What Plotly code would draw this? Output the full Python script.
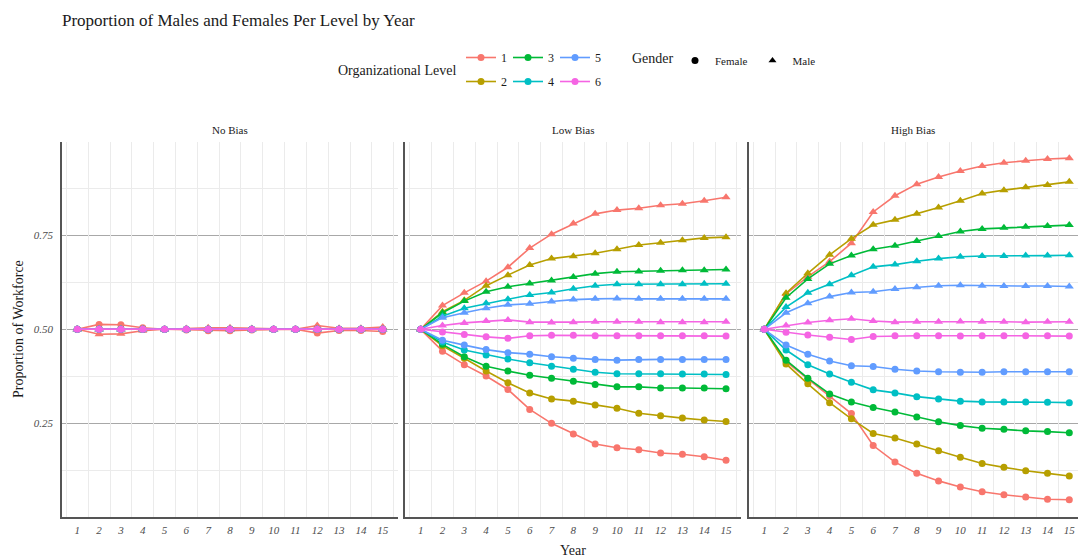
import plotly.graph_objects as go

years = list(range(1, 16))
levels = ["1", "2", "3", "4", "5", "6"]
scenarios = ["No Bias", "Low Bias", "High Bias"]
level_colors = ["#F8766D", "#B79F00", "#00BA38", "#00BFC4", "#619CFF", "#F564E3"]

# Proportion of each level's workforce by gender; one row per level 1..6
no_bias_female = [
    [0.5, 0.513, 0.512, 0.504, 0.5, 0.498, 0.496, 0.496, 0.498, 0.5, 0.5, 0.490, 0.497, 0.497, 0.494],
    [0.5, 0.5, 0.5, 0.5, 0.5, 0.5, 0.5, 0.5, 0.5, 0.5, 0.5, 0.5, 0.5, 0.5, 0.5],
    [0.5, 0.5, 0.5, 0.5, 0.5, 0.5, 0.5, 0.5, 0.5, 0.5, 0.5, 0.5, 0.5, 0.5, 0.5],
    [0.5, 0.5, 0.5, 0.5, 0.5, 0.5, 0.5, 0.5, 0.5, 0.5, 0.5, 0.5, 0.5, 0.5, 0.5],
    [0.5, 0.5, 0.5, 0.5, 0.5, 0.5, 0.5, 0.5, 0.5, 0.5, 0.5, 0.5, 0.5, 0.5, 0.5],
    [0.5, 0.5, 0.5, 0.5, 0.5, 0.5, 0.5, 0.5, 0.5, 0.5, 0.5, 0.5, 0.5, 0.5, 0.5],
]
no_bias_male = [
    [0.5, 0.487, 0.488, 0.496, 0.5, 0.502, 0.504, 0.504, 0.502, 0.5, 0.5, 0.510, 0.503, 0.503, 0.506],
    [0.5, 0.5, 0.5, 0.5, 0.5, 0.5, 0.5, 0.5, 0.5, 0.5, 0.5, 0.5, 0.5, 0.5, 0.5],
    [0.5, 0.5, 0.5, 0.5, 0.5, 0.5, 0.5, 0.5, 0.5, 0.5, 0.5, 0.5, 0.5, 0.5, 0.5],
    [0.5, 0.5, 0.5, 0.5, 0.5, 0.5, 0.5, 0.5, 0.5, 0.5, 0.5, 0.5, 0.5, 0.5, 0.5],
    [0.5, 0.5, 0.5, 0.5, 0.5, 0.5, 0.5, 0.5, 0.5, 0.5, 0.5, 0.5, 0.5, 0.5, 0.5],
    [0.5, 0.5, 0.5, 0.5, 0.5, 0.5, 0.5, 0.5, 0.5, 0.5, 0.5, 0.5, 0.5, 0.5, 0.5],
]

low_bias_female = [
    [0.5, 0.442, 0.406, 0.376, 0.340, 0.287, 0.250, 0.222, 0.195, 0.185, 0.180, 0.171, 0.168, 0.161, 0.152],
    [0.5, 0.456, 0.423, 0.389, 0.358, 0.331, 0.315, 0.309, 0.299, 0.290, 0.277, 0.270, 0.264, 0.259, 0.255],
    [0.5, 0.460, 0.427, 0.402, 0.389, 0.378, 0.370, 0.362, 0.353, 0.347, 0.347, 0.344, 0.344, 0.344, 0.342],
    [0.5, 0.466, 0.445, 0.432, 0.421, 0.411, 0.402, 0.394, 0.386, 0.382, 0.382, 0.382, 0.381, 0.381, 0.380],
    [0.5, 0.471, 0.458, 0.446, 0.438, 0.434, 0.427, 0.423, 0.420, 0.418, 0.420, 0.420, 0.420, 0.420, 0.420],
    [0.5, 0.493, 0.486, 0.480, 0.476, 0.483, 0.484, 0.484, 0.483, 0.483, 0.483, 0.483, 0.483, 0.483, 0.482],
]
low_bias_male = [
    [0.5, 0.563, 0.597, 0.628, 0.665, 0.716, 0.753, 0.781, 0.807, 0.817, 0.822, 0.830, 0.834, 0.842, 0.851],
    [0.5, 0.547, 0.577, 0.616, 0.644, 0.671, 0.688, 0.694, 0.702, 0.713, 0.724, 0.730, 0.737, 0.743, 0.745],
    [0.5, 0.544, 0.575, 0.600, 0.613, 0.622, 0.630, 0.639, 0.648, 0.653, 0.654, 0.656, 0.657, 0.657, 0.659],
    [0.5, 0.535, 0.556, 0.569, 0.580, 0.591, 0.598, 0.608, 0.616, 0.620, 0.620, 0.620, 0.620, 0.621, 0.621],
    [0.5, 0.531, 0.544, 0.556, 0.565, 0.568, 0.574, 0.579, 0.581, 0.582, 0.581, 0.581, 0.581, 0.581, 0.581],
    [0.5, 0.510, 0.517, 0.522, 0.525, 0.519, 0.518, 0.519, 0.520, 0.520, 0.520, 0.519, 0.519, 0.519, 0.520],
]

high_bias_female = [
    [0.5, 0.414, 0.368, 0.323, 0.276, 0.191, 0.147, 0.117, 0.097, 0.081, 0.068, 0.060, 0.054, 0.048, 0.047],
    [0.5, 0.408, 0.355, 0.305, 0.262, 0.223, 0.211, 0.195, 0.177, 0.160, 0.143, 0.133, 0.124, 0.117, 0.110],
    [0.5, 0.418, 0.370, 0.328, 0.307, 0.292, 0.280, 0.267, 0.254, 0.244, 0.237, 0.234, 0.230, 0.228, 0.225],
    [0.5, 0.445, 0.406, 0.381, 0.359, 0.339, 0.331, 0.321, 0.315, 0.309, 0.307, 0.307, 0.307, 0.306, 0.305],
    [0.5, 0.458, 0.434, 0.416, 0.403, 0.401, 0.394, 0.389, 0.387, 0.386, 0.386, 0.387, 0.387, 0.387, 0.387],
    [0.5, 0.492, 0.485, 0.479, 0.473, 0.481, 0.483, 0.483, 0.483, 0.482, 0.483, 0.483, 0.483, 0.483, 0.482],
]
high_bias_male = [
    [0.5, 0.594, 0.640, 0.680, 0.729, 0.812, 0.855, 0.886, 0.905, 0.921, 0.934, 0.943, 0.948, 0.953, 0.955],
    [0.5, 0.596, 0.649, 0.698, 0.741, 0.778, 0.791, 0.807, 0.824, 0.842, 0.861, 0.870, 0.878, 0.884, 0.892],
    [0.5, 0.584, 0.634, 0.674, 0.696, 0.713, 0.722, 0.735, 0.748, 0.760, 0.767, 0.770, 0.773, 0.775, 0.777],
    [0.5, 0.559, 0.597, 0.620, 0.644, 0.666, 0.672, 0.681, 0.688, 0.693, 0.695, 0.695, 0.696, 0.696, 0.697],
    [0.5, 0.544, 0.569, 0.587, 0.598, 0.600, 0.607, 0.612, 0.616, 0.617, 0.616, 0.615, 0.615, 0.615, 0.614],
    [0.5, 0.510, 0.518, 0.524, 0.528, 0.522, 0.519, 0.520, 0.520, 0.521, 0.520, 0.520, 0.519, 0.520, 0.520],
]

y_major = [0.25, 0.50, 0.75]
y_major_labels = ["0.25", "0.50", "0.75"]
y_minor = [0.125, 0.375, 0.625, 0.875]
x_minor = [y + 0.5 for y in [0] + years]

FONT = "Liberation Serif"
W, H = 1078, 559
ML, MR, MT, MB = 62, 0, 142, 42

fig = go.Figure()

panels = [
    (no_bias_female, no_bias_male),
    (low_bias_female, low_bias_male),
    (high_bias_female, high_bias_male),
]
axis_ids = ["", "2", "3"]
grid_ids = ["4", "5", "6"]

# Light background grid lives on overlay axes so it sits under the data
for p in range(3):
    fig.add_trace(go.Scatter(x=[None], y=[None], xaxis="x" + grid_ids[p], yaxis="y" + grid_ids[p],
                             showlegend=False, hoverinfo="skip"))

for p, (fem, mal) in enumerate(panels):
    xa, ya = "x" + axis_ids[p], "y" + axis_ids[p]
    for i, lvl in enumerate(levels):
        for vals, sym in ((fem, "circle"), (mal, "triangle-up")):
            fig.add_trace(go.Scatter(
                x=years, y=vals[i], mode="lines+markers",
                line=dict(color=level_colors[i], width=1.6),
                marker=dict(color=level_colors[i], size=7 if sym == "circle" else 8, symbol=sym),
                xaxis=xa, yaxis=ya, showlegend=False, hoverinfo="x+y",
            ))

# Legend entries: organizational levels laid out in three columns
col_legends = ["legend", "legend2", "legend3"]
for i, lvl in enumerate(levels):
    fig.add_trace(go.Scatter(
        x=[None], y=[None], mode="lines+markers", name=lvl,
        line=dict(color=level_colors[i], width=1.6),
        marker=dict(color=level_colors[i], size=7, symbol="circle"),
        legend=col_legends[i // 2], legendgroup="lvl" + lvl, showlegend=True,
    ))
# Gender legend
for g, sym in (("Female", "circle"), ("Male", "triangle-up")):
    fig.add_trace(go.Scatter(
        x=[None], y=[None], mode="markers", name=g,
        marker=dict(color="black", size=7, symbol=sym),
        legend="legend4", showlegend=True,
    ))

plot_w = W - ML - MR
def px_to_dom(a, b):
    return [(a - ML) / plot_w, min(1.0, (b - ML) / plot_w)]

domains = [px_to_dom(62, 398), px_to_dom(405.4, 741.3), px_to_dom(749, 1078)]
x_ranges = [[0.3, 15.7], [0.3, 15.7], [0.3, 15.4]]
y_range = [0.001, 0.998]

tickfont = dict(family=FONT, size=11, color="#4D4D4D", style="italic")
layout = dict(
    width=W, height=H,
    margin=dict(l=ML, r=MR, t=MT, b=MB, autoexpand=False),
    paper_bgcolor="white", plot_bgcolor="white",
    font=dict(family=FONT, color="#1A1A1A"),
    title=dict(text="Proportion of Males and Females Per Level by Year",
               x=62 / W, xref="container", xanchor="left",
               y=1 - 20 / H, yref="container", yanchor="middle",
               font=dict(family=FONT, size=17, color="#1A1A1A")),
)

for p in range(3):
    sfx, g = axis_ids[p], grid_ids[p]
    layout["xaxis" + sfx] = dict(
        domain=domains[p], range=x_ranges[p], anchor="y" + sfx,
        tickmode="array", tickvals=years, ticktext=[str(y) for y in years],
        tickfont=tickfont, ticks="outside", ticklen=2, tickcolor="rgba(0,0,0,0)",
        showgrid=False, zeroline=False,
        showline=True, linecolor="#555555", linewidth=1.5,
    )
    layout["yaxis" + sfx] = dict(
        domain=[0, 1], range=y_range, anchor="x" + sfx,
        tickmode="array", tickvals=y_major, ticktext=y_major_labels,
        showticklabels=(p == 0), tickfont=tickfont,
        ticks="outside", ticklen=5, tickcolor="rgba(0,0,0,0)",
        showgrid=True, gridcolor="#A8A8A8", gridwidth=1.4, zeroline=False,
        showline=True, linecolor="#555555", linewidth=1.5,
    )
    layout["xaxis" + g] = dict(
        overlaying="x" + sfx, anchor="y" + g, range=x_ranges[p],
        tickmode="array", tickvals=x_minor, showticklabels=False, ticks="",
        showgrid=True, gridcolor="#EBEBEB", gridwidth=1, zeroline=False, showline=False,
    )
    layout["yaxis" + g] = dict(
        overlaying="y" + sfx, anchor="x" + g, range=y_range,
        tickmode="array", tickvals=y_minor, showticklabels=False, ticks="",
        showgrid=True, gridcolor="#EBEBEB", gridwidth=1, zeroline=False, showline=False,
    )

legend_common = dict(
    xref="container", yref="container", xanchor="left", yanchor="top",
    orientation="v", traceorder="grouped", tracegroupgap=5,
    font=dict(family=FONT, size=12, color="#1A1A1A"),
    bgcolor="rgba(0,0,0,0)",
)
col_x = [461, 508, 555]
for k, name in enumerate(col_legends):
    layout[name] = dict(legend_common, x=col_x[k] / W, y=1 - 43 / H)
layout["legend4"] = dict(
    xref="container", yref="container", xanchor="left", yanchor="top",
    x=675 / W, y=1 - 46 / H, orientation="h",
    font=dict(family=FONT, size=11, color="#1A1A1A"),
    bgcolor="rgba(0,0,0,0)",
)

fig.update_layout(**layout)

def px_x(px):
    return (px - ML) / plot_w
def px_y(py):
    return (H - MB - py) / (H - MT - MB)

annotations = [
    dict(text="Organizational Level", x=px_x(458), y=px_y(71), xanchor="right", yanchor="middle",
         font=dict(family=FONT, size=14, color="#1A1A1A")),
    dict(text="Gender", x=px_x(630), y=px_y(58), xanchor="left", yanchor="middle",
         font=dict(family=FONT, size=14, color="#1A1A1A")),
    dict(text="Year", x=px_x(573), y=px_y(550), xanchor="center", yanchor="middle",
         font=dict(family=FONT, size=14, color="#1A1A1A")),
    dict(text="Proportion of Workforce", x=px_x(18), y=px_y(329), xanchor="center", yanchor="middle",
         textangle=-90, font=dict(family=FONT, size=14, color="#1A1A1A")),
]
strip_centers = [230, 573, 913]
for name, cx in zip(scenarios, strip_centers):
    annotations.append(dict(
        text=name, x=px_x(cx), y=px_y(130), xanchor="center", yanchor="middle",
        font=dict(family=FONT, size=11, color="#1A1A1A")))
for a in annotations:
    a["xref"] = "paper"
    a["yref"] = "paper"
    a["showarrow"] = False
fig.update_layout(annotations=annotations)

fig.write_html("out.html")
